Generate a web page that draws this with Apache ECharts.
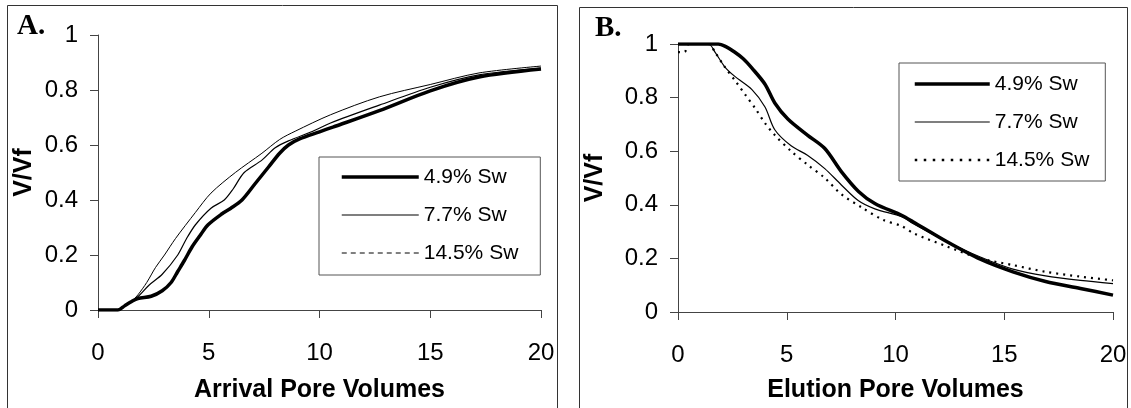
<!DOCTYPE html>
<html>
<head>
<meta charset="utf-8">
<script src="https://cdn.jsdelivr.net/npm/echarts@6/dist/echarts.min.js"></script>
<style>
html,body{margin:0;padding:0;background:#fff;}
#chart{width:1131px;height:408px;}
</style>
</head>
<body>
<div id="chart"></div>
<script>
// ---- data ----
const seriesNames = ['4.9% Sw', '7.7% Sw', '14.5% Sw'];
const xTicks = [0, 5, 10, 15, 20];
const yTicks = [0, 0.2, 0.4, 0.6, 0.8, 1];

// Panel A: arrival curves [pore volumes, V/Vf]
const arrival49 = [[0,0],[0.5,0],[0.9,0],[1.2,0.015],[1.5,0.03],[1.8,0.042],[2.4,0.05],[2.9,0.07],[3.3,0.1],[3.6,0.14],[3.9,0.18],[4.25,0.23],[4.6,0.27],[4.97,0.31],[5.6,0.35],[6.0,0.37],[6.5,0.40],[7.1,0.46],[7.7,0.52],[8.2,0.57],[8.6,0.60],[9.1,0.622],[10,0.648],[10.6,0.665],[12.7,0.725],[15,0.797],[17.2,0.847],[20,0.876]];
const arrival77 = [[0,0],[0.5,0],[0.9,0],[1.2,0.015],[1.5,0.03],[1.8,0.048],[2.3,0.09],[2.9,0.13],[3.6,0.2],[4.0,0.26],[4.4,0.31],[5.1,0.37],[5.7,0.40],[6.1,0.44],[6.6,0.50],[7.4,0.545],[8.0,0.59],[8.6,0.615],[9.7,0.65],[10.5,0.68],[12.7,0.745],[15,0.81],[17.2,0.855],[20,0.88]];
const arrival145 = [[0,0],[0.5,0],[0.9,0],[1.2,0.015],[1.5,0.03],[1.8,0.055],[2.2,0.1],[2.6,0.155],[3.0,0.2],[3.5,0.26],[4.4,0.355],[5.1,0.425],[6.2,0.50],[7.4,0.57],[8.2,0.62],[8.9,0.65],[10.5,0.71],[12.7,0.775],[15,0.82],[17.2,0.862],[20,0.887]];

// Panel B: elution curves [pore volumes, V/Vf]
const elution49 = [[0,1],[1.85,1],[2.2,0.99],[2.6,0.97],[3.0,0.945],[3.4,0.91],[4.0,0.85],[4.45,0.78],[5.05,0.72],[5.95,0.66],[6.75,0.61],[7.5,0.525],[8.3,0.45],[9.05,0.405],[10.3,0.36],[10.8,0.337],[12.35,0.263],[13.9,0.197],[15.4,0.15],[16.9,0.114],[18.5,0.088],[20,0.063]];
const elution77 = [[0,1],[1.4,1],[1.7,0.97],[2.15,0.915],[2.6,0.88],[3.4,0.83],[4.0,0.765],[4.45,0.68],[5.2,0.62],[5.95,0.585],[6.75,0.535],[7.5,0.475],[8.3,0.415],[9.05,0.385],[10.3,0.355],[10.8,0.33],[12.35,0.263],[13.9,0.205],[15.4,0.16],[16.9,0.135],[18.5,0.118],[20,0.106]];
const elution145 = [[0,0.97],[0.3,0.97],[0.5,1],[1.4,1],[1.7,0.97],[2.1,0.92],[2.7,0.855],[3.1,0.81],[3.55,0.76],[4.0,0.705],[4.45,0.66],[5.2,0.60],[5.95,0.55],[6.75,0.50],[7.5,0.44],[8.45,0.39],[9.4,0.345],[10.3,0.32],[10.8,0.295],[12.35,0.245],[13.9,0.20],[15.4,0.175],[16.9,0.15],[18.5,0.132],[20,0.118]];

// ---- chart ----
const FONT = '"Liberation Sans", Arial, sans-serif';
const chart = echarts.init(document.getElementById('chart'), null, {renderer: 'canvas'});

function xAxisCfg(gridIndex, name, nameGap) {
  return {
    type: 'value', gridIndex: gridIndex, min: xTicks[0], max: xTicks[xTicks.length-1], interval: 5,
    name: name, nameLocation: 'middle', nameGap: nameGap,
    nameTextStyle: {fontFamily: FONT, fontWeight: 'bold', fontSize: 25, color: '#000'},
    axisLine: {show: true, lineStyle: {color: '#444', width: 1}},
    axisTick: {show: true, inside: false, length: 8, lineStyle: {color: '#444'}},
    axisLabel: {fontFamily: FONT, fontSize: 24, color: '#000', margin: 31},
    splitLine: {show: false}
  };
}
function yAxisCfg(gridIndex, nameGap) {
  return {
    type: 'value', gridIndex: gridIndex, min: yTicks[0], max: yTicks[yTicks.length-1], interval: 0.2,
    name: 'V/Vf', nameLocation: 'middle', nameGap: nameGap, nameRotate: 90,
    nameTextStyle: {fontFamily: FONT, fontWeight: 'bold', fontSize: 25, color: '#000'},
    axisLine: {show: true, lineStyle: {color: '#444', width: 1}},
    axisTick: {show: true, inside: false, length: 8, lineStyle: {color: '#444'}},
    axisLabel: {fontFamily: FONT, fontSize: 24, color: '#000', margin: 20},
    splitLine: {show: false}
  };
}
function line(name, data, xi, width, type) {
  return {
    type: 'line', name: name, data: data, xAxisIndex: xi, yAxisIndex: xi,
    symbol: 'none', smooth: 0.3, animation: false,
    lineStyle: {color: '#000', width: width, type: type || 'solid'},
    itemStyle: {color: '#000'}
  };
}
function legendCfg(left, top, padding, iconW, thirdStyle) {
  return {
    orient: 'vertical', left: left, top: top, padding: padding,
    itemWidth: iconW, itemHeight: 14, itemGap: 14,
    borderColor: '#555', borderWidth: 1, backgroundColor: '#fff',
    selectedMode: false,
    itemStyle: {color: 'rgba(0,0,0,0)', borderColor: 'rgba(0,0,0,0)', borderWidth: 0},
    textStyle: {fontFamily: FONT, fontSize: 21, color: '#000', lineHeight: 24},
    data: [
      {name: seriesNames[0], lineStyle: {width: 3.5, type: 'solid'}},
      {name: seriesNames[1], lineStyle: {width: 1.2, type: 'solid'}},
      {name: seriesNames[2], lineStyle: thirdStyle}
    ]
  };
}

const option = {
  backgroundColor: '#fff',
  animation: false,
  grid: [
    {left: 98, top: 35, width: 443, height: 282},
    {left: 678, top: 44, width: 435, height: 275}
  ],
  xAxis: [xAxisCfg(0, 'Arrival Pore Volumes', 68), xAxisCfg(1, 'Elution Pore Volumes', 66)],
  yAxis: [yAxisCfg(0, 61), yAxisCfg(1, 70)],
  legend: [
    legendCfg(319, 157, [8, 22, 10, 21], 77, {width: 1, type: [5, 4]}),
    legendCfg(899, 63, [9, 16, 9, 14], 75, {width: 2.5, type: [2.5, 6.5]})
  ],
  graphic: [
    {type: 'rect', shape: {x: 7.5, y: 5.5, width: 550, height: 420}, style: {fill: null, stroke: '#333', lineWidth: 1}, silent: true},
    {type: 'rect', shape: {x: 579.5, y: 7.5, width: 548, height: 420}, style: {fill: null, stroke: '#333', lineWidth: 1}, silent: true},
    {type: 'text', left: 17, top: 12, style: {text: 'A.', fontFamily: '"Liberation Serif", "Times New Roman", serif', fontWeight: 'bold', fontSize: 29, fill: '#000'}},
    {type: 'text', left: 595, top: 14, style: {text: 'B.', fontFamily: '"Liberation Serif", "Times New Roman", serif', fontWeight: 'bold', fontSize: 29, fill: '#000'}}
  ],
  series: [
    line(seriesNames[0], arrival49, 0, 3.5),
    line(seriesNames[1], arrival77, 0, 1.2),
    line(seriesNames[2], arrival145, 0, 1),
    line(seriesNames[0], elution49, 1, 3.5),
    line(seriesNames[1], elution77, 1, 1.2),
    line(seriesNames[2], elution145, 1, 2.2, [2, 5])
  ]
};
chart.setOption(option);
</script>
</body>
</html>
